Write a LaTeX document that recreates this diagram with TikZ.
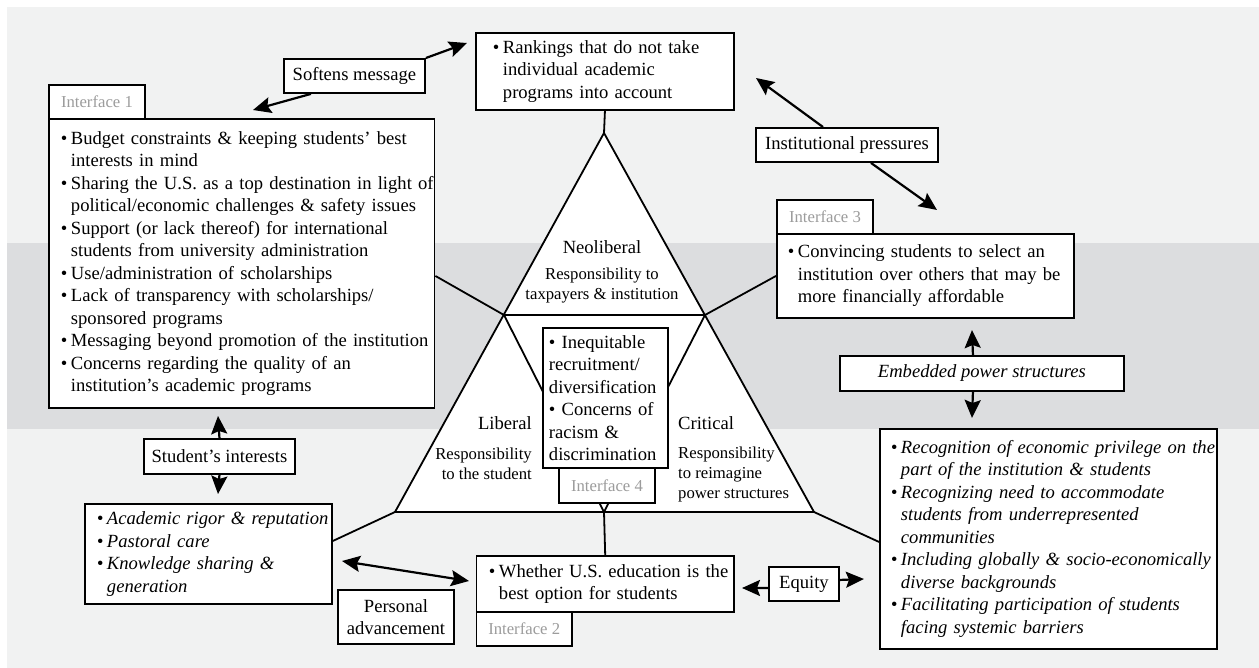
\documentclass[tikz,border=0pt]{standalone}
\usepackage{fontspec}
\setmainfont{Liberation Serif}
\usetikzlibrary{arrows.meta}
\definecolor{panel}{HTML}{F1F2F2}
\definecolor{band}{HTML}{DCDDDF}
\definecolor{tabtext}{HTML}{9C9C9C}
% bullet item start and continuation indent
\newcommand\itm{\makebox[10pt][l]{\textbullet}}
\newcommand\cnt{\hspace*{10pt}}
\tikzset{
  boxbase/.style={draw, fill=white, line width=1.9pt, inner sep=0pt, anchor=north west},
  listbox/.style={boxbase, align=left, font=\fontsize{18.6}{22.5}\selectfont},
  tagbox/.style={boxbase, align=center, font=\fontsize{18.6}{22}\selectfont},
  tabbox/.style={boxbase, align=center, text=tabtext, font=\fontsize{16.7}{20}\selectfont},
  linkline/.style={line width=1.8pt},
  arrowline/.style={line width=2.2pt, -{Stealth[length=18pt,width=16pt,inset=3pt]}},
  arrowboth/.style={line width=2.2pt, {Stealth[length=18pt,width=16pt,inset=3pt]}-{Stealth[length=18pt,width=16pt,inset=3pt]}},
  majortext/.style={inner sep=0pt, font=\fontsize{18.6}{22}\selectfont},
  minortext/.style={inner sep=0pt, font=\fontsize{16.7}{19.8}\selectfont},
}
\begin{document}
\begin{tikzpicture}[x=1pt,y=-1pt]
\useasboundingbox (0,0) rectangle (1259,668);
% background panels
\fill[white] (0,0) rectangle (1259,668);
\fill[panel] (7,7) rectangle (1259,668);
\fill[band] (7,243) rectangle (1259,429);

% central triangle
\coordinate (A) at (604,133);
\coordinate (L) at (395,512);
\coordinate (R) at (814,512);
\coordinate (ML) at (504,315);
\coordinate (MR) at (705,315);
\coordinate (B) at (604,512);
\draw[linkline, fill=white, line join=miter] (A) -- (L) -- (R) -- cycle;
\draw[linkline] (ML) -- (MR) -- (B) -- cycle;

% triangle labels
\node[majortext] (neo) at (602,247) {Neoliberal};
\node[minortext, align=center] (neosub) at (602,285.5) {Responsibility to\\taxpayers \& institution};
\node[majortext, anchor=east] (lib) at (532,423) {Liberal};
\node[minortext, align=right, anchor=east] (libsub) at (532,464) {Responsibility\\to the student};
\node[majortext, anchor=west] (crit) at (678,423) {Critical};
\node[minortext, align=left, anchor=west] (critsub) at (678,474.5) {Responsibility\\to reimagine\\power structures};

% Interface 1
\node[tabbox, minimum width=96pt, minimum height=34pt] (tab1) at (48,84) {Interface 1};
\node[listbox, minimum width=385.5pt, minimum height=289pt, text width=361.5pt] (if1) at (48,118) {%
\itm\mbox{Budget constraints \& keeping students' best}\\
\cnt\mbox{interests in mind}\\
\itm\mbox{Sharing the U.S. as a top destination in light of}\\
\cnt\mbox{political/economic challenges \& safety issues}\\
\itm\mbox{Support (or lack thereof) for international}\\
\cnt\mbox{students from university administration}\\
\itm\mbox{Use/administration of scholarships}\\
\itm\mbox{Lack of transparency with scholarships/}\\
\cnt\mbox{sponsored programs}\\
\itm\mbox{Messaging beyond promotion of the institution}\\
\itm\mbox{Concerns regarding the quality of an}\\
\cnt\mbox{institution's academic programs}};

% rankings
\node[listbox, minimum width=258pt, minimum height=77pt, text width=224pt] (rank) at (475,32) {%
\itm\mbox{Rankings that do not take}\\
\cnt\mbox{individual academic}\\
\cnt\mbox{programs into account}};

\node[tagbox, minimum width=141pt, minimum height=34pt] (soft) at (283,58) {Softens message};
\node[tagbox, minimum width=182pt, minimum height=34pt] (inst) at (755,127) {Institutional pressures};

% Interface 3
\node[tabbox, minimum width=96pt, minimum height=34pt] (tab3) at (776,199) {Interface 3};
\node[listbox, minimum width=297pt, minimum height=84pt, text width=275pt] (if3) at (776,233) {%
\itm\mbox{Convincing students to select an}\\
\cnt\mbox{institution over others that may be}\\
\cnt\mbox{more financially affordable}};

\node[tagbox, minimum width=284pt, minimum height=35pt, font=\fontsize{18.6}{22}\selectfont\itshape] (emb) at (839,355) {Embedded power structures};

% critical outcomes
\node[listbox, minimum width=337pt, minimum height=220pt, text width=315pt, font=\fontsize{18.6}{22.5}\selectfont\itshape] (crbox) at (879,428) {%
\itm\mbox{Recognition of economic privilege on the}\\
\cnt\mbox{part of the institution \& students}\\
\itm\mbox{Recognizing need to accommodate}\\
\cnt\mbox{students from underrepresented}\\
\cnt\mbox{communities}\\
\itm\mbox{Including globally \& socio-economically}\\
\cnt\mbox{diverse backgrounds}\\
\itm\mbox{Facilitating participation of students}\\
\cnt\mbox{facing systemic barriers}};

% Interface 4
\node[listbox, minimum width=125pt, minimum height=140pt, text width=113pt] (ineq) at (542,327) {%
\mbox{\textbullet\ Inequitable}\\
\mbox{recruitment/}\\
\mbox{diversification}\\
\mbox{\textbullet\ Concerns of}\\
\mbox{racism \&}\\
\mbox{discrimination}};
\node[tabbox, minimum width=96pt, minimum height=35pt] (tab4) at (558,467) {Interface 4};

% Interface 2
\node[listbox, minimum width=257.5pt, minimum height=56pt, text width=232.5pt] (whether) at (475.5,555) {%
\itm\mbox{Whether U.S. education is the}\\
\cnt\mbox{best option for students}};
\node[tabbox, minimum width=95.5pt, minimum height=34pt] (tab2) at (475.5,611) {Interface 2};

\node[tagbox, minimum width=116pt, minimum height=54pt] (pers) at (337,589) {Personal\\advancement};
\node[tagbox, minimum width=70pt, minimum height=34pt] (equity) at (768,566) {Equity};

% liberal outcomes
\node[listbox, minimum width=247pt, minimum height=100pt, text width=223pt, font=\fontsize{18.6}{22.5}\selectfont\itshape] (acad) at (84,503) {%
\itm\mbox{Academic rigor \& reputation}\\
\itm\mbox{Pastoral care}\\
\itm\mbox{Knowledge sharing \&}\\
\cnt\mbox{generation}};

\node[tagbox, minimum width=151pt, minimum height=35pt] (stud) at (143,438) {Student's interests};

% connectors from triangle to boxes
\draw[linkline] (rank.south) -- (A);
\draw[linkline] ([yshift=-12.5pt]if1.east) -- (ML);
\draw[linkline] (MR) -- (if3.west);
\draw[linkline] ([yshift=13pt]acad.east) -- (L);
\draw[linkline] (R) -- ([yshift=-3pt]crbox.west);
\draw[linkline] (B) -- (whether.north);

% arrow tips
\coordinate (softTipR) at (467,43);
\coordinate (softTipL) at (253,110);
\coordinate (instTipU) at (756,78);
\coordinate (instTipD) at (937,210);
\coordinate (embTipU) at (972,330);
\coordinate (embTipD) at (972,418);
\coordinate (studTipU) at (218,416);
\coordinate (studTipD) at (218,494);
\coordinate (padvL) at (342,561);
\coordinate (padvR) at (469,581);
\coordinate (eqTipL) at (742,588);
\coordinate (eqTipR) at (864,579);

\draw[arrowline] (soft.north east) -- (softTipR);
\draw[arrowline] ([xshift=-43.5pt]soft.south) -- (softTipL);
\draw[arrowline] ([xshift=-24pt]inst.north) -- (instTipU);
\draw[arrowline] ([xshift=24pt]inst.south) -- (instTipD);
\draw[arrowline] ([xshift=-9pt]emb.north) -- (embTipU);
\draw[arrowline] ([xshift=-9pt]emb.south) -- (embTipD);
\draw[arrowline] (stud.north) -- (studTipU);
\draw[arrowline] (stud.south) -- (studTipD);
\draw[arrowboth] (padvL) -- (padvR);
\draw[arrowline] ([yshift=-4pt]equity.west) -- (eqTipL);
\draw[arrowline] ([yshift=4pt]equity.east) -- (eqTipR);
\end{tikzpicture}
\end{document}
